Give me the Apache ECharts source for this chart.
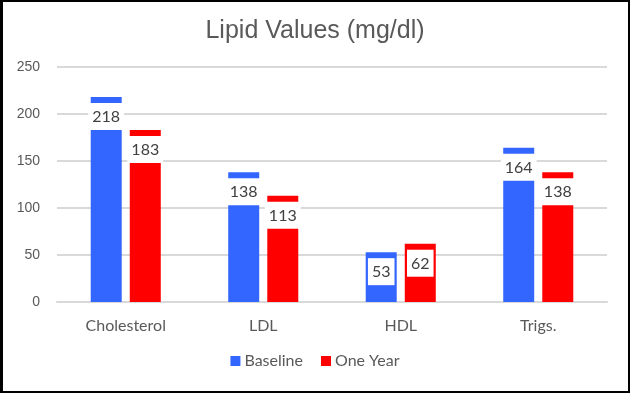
<!DOCTYPE html>
<html>
<head>
<meta charset="utf-8">
<script src="https://cdn.jsdelivr.net/npm/echarts@6/dist/echarts.min.js"></script>
<style>
html,body{margin:0;padding:0;background:#fff;}
#wrap{width:630px;height:393px;box-sizing:border-box;border:2px solid #000;border-left-width:3px;position:relative;overflow:hidden;}
#chart{position:absolute;left:-3px;top:-2px;width:630px;height:393px;}
</style>
</head>
<body>
<div id="wrap"><div id="chart"></div></div>
<script>
const categories = ['Cholesterol', 'LDL', 'HDL', 'Trigs.'];
const baseline = [218, 138, 53, 164];
const oneYear = [183, 113, 62, 138];
const yTicks = {min: 0, max: 250, interval: 50};

const chart = echarts.init(document.getElementById('chart'), null, {renderer: 'canvas'});
const labelStyle = {
  show: true,
  position: 'insideTop',
  distance: 6,
  backgroundColor: '#ffffff',
  padding: [6, 4, 5, 4],
  lineHeight: 16,
  fontSize: 16,
  fontFamily: 'Lato',
  color: '#404040'
};
chart.setOption({
  animation: false,
  title: {
    text: 'Lipid Values (mg/dl)',
    left: 'center',
    top: 14,
    textStyle: {fontSize: 25, fontWeight: 'normal', fontFamily: 'Liberation Sans', color: '#595959'}
  },
  grid: {left: 57, right: 23, top: 67, bottom: 91},
  legend: {
    bottom: 19,
    left: 'center',
    itemWidth: 10,
    itemHeight: 10,
    itemGap: 18,
    icon: 'rect',
    textStyle: {fontSize: 16, fontFamily: 'Lato', color: '#595959', padding: [0, 0, 0, -1]},
    data: ['Baseline', 'One Year']
  },
  xAxis: {
    type: 'category',
    data: categories,
    axisLine: {show: true, lineStyle: {color: '#d9d9d9', width: 2}},
    axisTick: {show: false},
    axisLabel: {fontSize: 16, fontFamily: 'Lato', color: '#595959', margin: 16}
  },
  yAxis: {
    type: 'value',
    min: yTicks.min,
    max: yTicks.max,
    interval: yTicks.interval,
    axisLine: {show: false},
    axisTick: {show: false},
    splitLine: {lineStyle: {color: '#d9d9d9', width: 2}},
    axisLabel: {fontSize: 14, fontFamily: 'Liberation Sans', color: '#595959', margin: 17}
  },
  series: [
    {name: 'Baseline', type: 'bar', data: baseline, barWidth: 31, barGap: '26%',
     itemStyle: {color: '#3366ff'}, label: labelStyle},
    {name: 'One Year', type: 'bar', data: oneYear, barWidth: 31,
     itemStyle: {color: '#ff0000'}, label: labelStyle}
  ]
});
</script>
</body>
</html>
